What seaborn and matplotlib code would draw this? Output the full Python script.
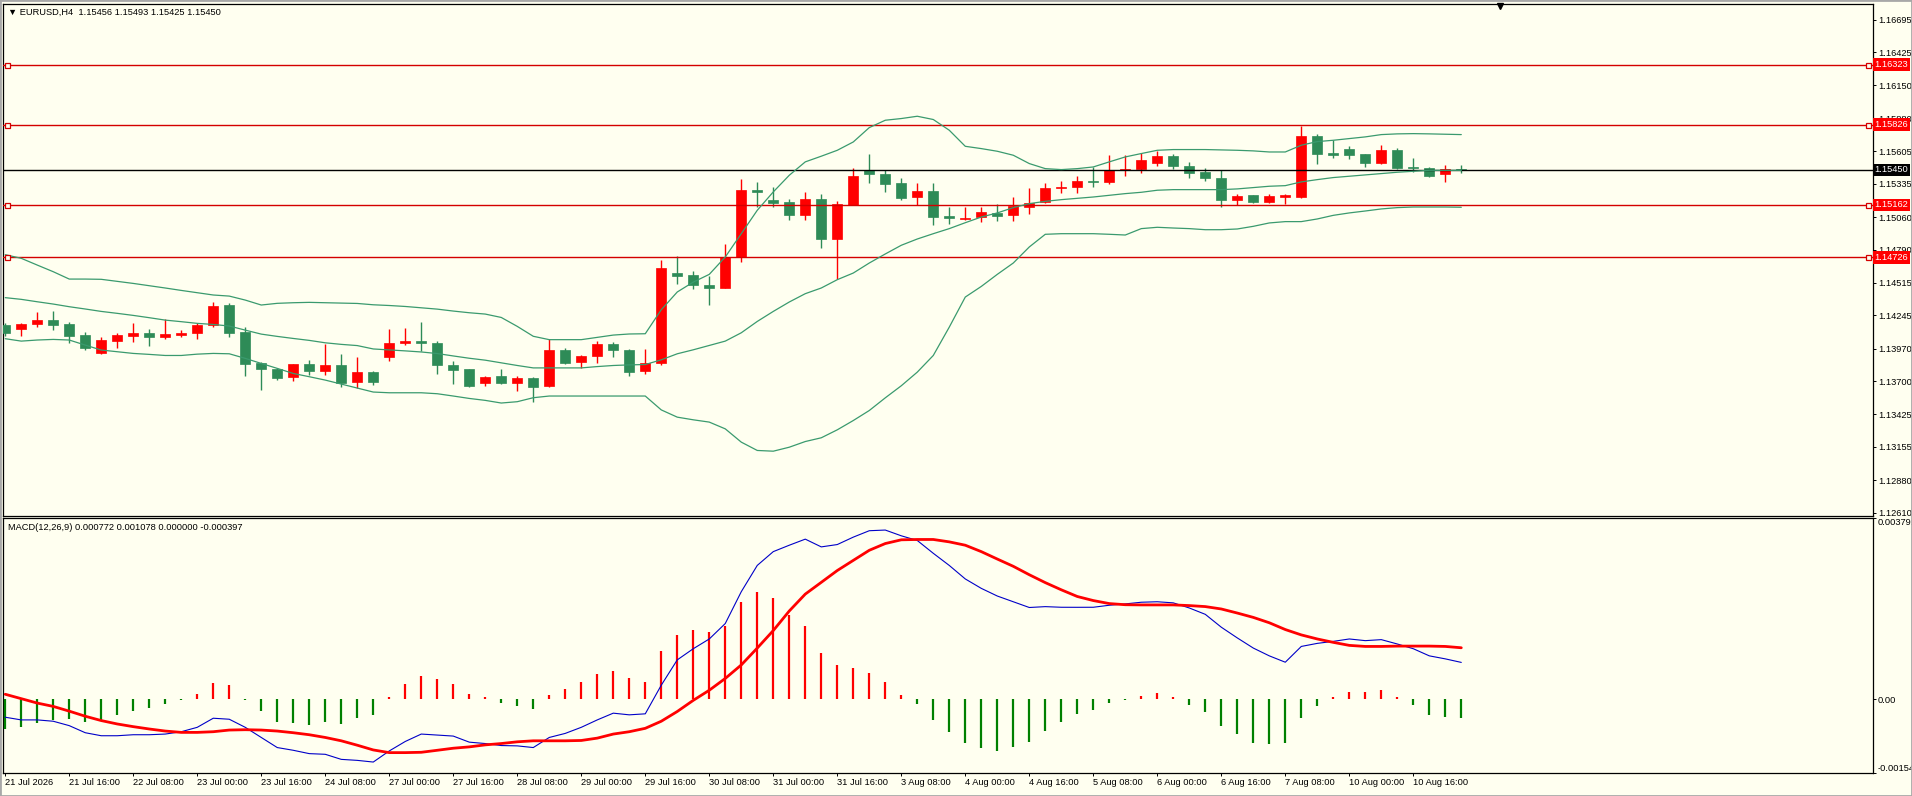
import numpy as np
import pandas as pd
import matplotlib
matplotlib.use("Agg")
import matplotlib.pyplot as plt
import matplotlib.transforms as mtransforms
from matplotlib.patches import Rectangle
import seaborn as sns

# EURUSD H4 candles (21 Jul 2026 00:00 .. 12 Aug)
opens = [1.14165, 1.14129, 1.14170, 1.14206, 1.14173, 1.14082, 1.13930, 1.14035, 1.14076, 1.14099,
         1.14068, 1.14085, 1.14096, 1.14162, 1.14331, 1.14107, 1.13850, 1.13800, 1.13736, 1.13839,
         1.13786, 1.13833, 1.13692, 1.13780, 1.13901, 1.14014, 1.14036, 1.14019, 1.13835, 1.13797,
         1.13687, 1.13747, 1.13687, 1.13728, 1.13659, 1.13962, 1.13860, 1.13906, 1.14011, 1.13962,
         1.13783, 1.13849, 1.14599, 1.14577, 1.14499, 1.14474, 1.14726, 1.15282, 1.15204, 1.15182,
         1.15080, 1.15212, 1.14881, 1.15163, 1.15447, 1.15420, 1.15340, 1.15229, 1.15279, 1.15066,
         1.15044, 1.15058, 1.15096, 1.15080, 1.15146, 1.15185, 1.15304, 1.15312, 1.15362, 1.15353,
         1.15450, 1.15458, 1.15508, 1.15563, 1.15486, 1.15431, 1.15387, 1.15201, 1.15240, 1.15185,
         1.15226, 1.15226, 1.15729, 1.15591, 1.15627, 1.15580, 1.15511, 1.15613, 1.15472, 1.15470,
         1.15420, 1.15456]
highs = [1.14184, 1.14184, 1.14273, 1.14281, 1.14190, 1.14107, 1.14063, 1.14101, 1.14184, 1.14132,
         1.14215, 1.14123, 1.14179, 1.14356, 1.14345, 1.14146, 1.13855, 1.13806, 1.13844, 1.13875,
         1.14007, 1.13924, 1.13901, 1.13786, 1.14135, 1.14143, 1.14187, 1.14036, 1.13871, 1.13802,
         1.13747, 1.13805, 1.13742, 1.13733, 1.14050, 1.13975, 1.13918, 1.14036, 1.14025, 1.13967,
         1.13970, 1.14704, 1.14740, 1.14610, 1.14571, 1.14839, 1.15373, 1.15353, 1.15309, 1.15212,
         1.15268, 1.15248, 1.15190, 1.15470, 1.15586, 1.15447, 1.15384, 1.15345, 1.15345, 1.15143,
         1.15143, 1.15143, 1.15171, 1.15229, 1.15304, 1.15340, 1.15359, 1.15403, 1.15475, 1.15572,
         1.15572, 1.15594, 1.15608, 1.15580, 1.15519, 1.15467, 1.15447, 1.15254, 1.15246, 1.15251,
         1.15254, 1.15812, 1.15751, 1.15702, 1.15646, 1.15586, 1.15655, 1.15635, 1.15552, 1.15475,
         1.15494, 1.15493]
lows = [1.14074, 1.14076, 1.14151, 1.14123, 1.14018, 1.13958, 1.13924, 1.13977, 1.14027, 1.13994,
        1.14052, 1.14068, 1.14046, 1.14151, 1.14063, 1.13745, 1.13631, 1.13706, 1.13701, 1.13750,
        1.13753, 1.13654, 1.13640, 1.13667, 1.13865, 1.14003, 1.13948, 1.13761, 1.13673, 1.13654,
        1.13659, 1.13678, 1.13618, 1.13527, 1.13654, 1.13843, 1.13810, 1.13849, 1.13898, 1.13742,
        1.13761, 1.13838, 1.14508, 1.14461, 1.14328, 1.14472, 1.14687, 1.15143, 1.15143, 1.15038,
        1.15038, 1.14806, 1.14549, 1.15157, 1.15345, 1.15271, 1.15204, 1.15163, 1.14991, 1.15005,
        1.15038, 1.15019, 1.15027, 1.15027, 1.15083, 1.15177, 1.15259, 1.15262, 1.15309, 1.15337,
        1.15403, 1.15425, 1.15486, 1.15461, 1.15387, 1.15359, 1.15143, 1.15163, 1.15177, 1.15177,
        1.15171, 1.15221, 1.15503, 1.15552, 1.15544, 1.15475, 1.15503, 1.15461, 1.15434, 1.15392,
        1.15351, 1.15425]
closes = [1.14096, 1.14170, 1.14206, 1.14168, 1.14076, 1.13977, 1.14041, 1.14079, 1.14099, 1.14068,
          1.14087, 1.14099, 1.14168, 1.14322, 1.14096, 1.13844, 1.13797, 1.13728, 1.13839, 1.13786,
          1.13830, 1.13687, 1.13780, 1.13692, 1.14016, 1.14036, 1.14016, 1.13832, 1.13791, 1.13659,
          1.13736, 1.13684, 1.13728, 1.13651, 1.13962, 1.13849, 1.13912, 1.14011, 1.13956, 1.13775,
          1.13852, 1.14635, 1.14574, 1.14499, 1.14474, 1.14726, 1.15282, 1.15268, 1.15177, 1.15077,
          1.15212, 1.14881, 1.15171, 1.15398, 1.15420, 1.15337, 1.15218, 1.15279, 1.15060, 1.15055,
          1.15055, 1.15105, 1.15069, 1.15149, 1.15179, 1.15304, 1.15312, 1.15362, 1.15351, 1.15453,
          1.15456, 1.15530, 1.15563, 1.15483, 1.15425, 1.15384, 1.15201, 1.15237, 1.15185, 1.15232,
          1.15240, 1.15729, 1.15586, 1.15572, 1.15577, 1.15511, 1.15613, 1.15467, 1.15467, 1.15400,
          1.15461, 1.15450]

# Bollinger bands
bb_upper = [1.14748, 1.14718, 1.14662, 1.14607, 1.14546, 1.14546, 1.14544, 1.14527, 1.14510, 1.14491,
            1.14472, 1.14452, 1.14433, 1.14414, 1.14405, 1.14372, 1.14331, 1.14345, 1.14350, 1.14353,
            1.14350, 1.14347, 1.14344, 1.14333, 1.14327, 1.14319, 1.14308, 1.14297, 1.14281, 1.14267,
            1.14256, 1.14228, 1.14154, 1.14072, 1.14044, 1.14044, 1.14044, 1.14063, 1.14082, 1.14091,
            1.14093, 1.14292, 1.14439, 1.14521, 1.14585, 1.14729, 1.14922, 1.15116, 1.15268, 1.15406,
            1.15517, 1.15564, 1.15613, 1.15682, 1.15801, 1.15862, 1.15876, 1.15895, 1.15868, 1.15779,
            1.15646, 1.15627, 1.15605, 1.15572, 1.15503, 1.15461, 1.15453, 1.15461, 1.15475, 1.15517,
            1.15558, 1.15586, 1.15613, 1.15619, 1.15619, 1.15619, 1.15616, 1.15613, 1.15608, 1.15599,
            1.15599, 1.15655, 1.15685, 1.15696, 1.15710, 1.15724, 1.15743, 1.15749, 1.15751, 1.15749,
            1.15746, 1.15743]
bb_mid = [1.14392, 1.14378, 1.14358, 1.14339, 1.14317, 1.14298, 1.14278, 1.14262, 1.14245, 1.14226,
          1.14206, 1.14193, 1.14179, 1.14170, 1.14157, 1.14123, 1.14090, 1.14071, 1.14054, 1.14038,
          1.14018, 1.14005, 1.13995, 1.13967, 1.13959, 1.13951, 1.13942, 1.13929, 1.13909, 1.13890,
          1.13874, 1.13852, 1.13830, 1.13810, 1.13810, 1.13810, 1.13810, 1.13821, 1.13830, 1.13835,
          1.13838, 1.13877, 1.13927, 1.13960, 1.13996, 1.14032, 1.14101, 1.14195, 1.14278, 1.14356,
          1.14425, 1.14472, 1.14541, 1.14596, 1.14679, 1.14754, 1.14826, 1.14878, 1.14922, 1.14964,
          1.15013, 1.15060, 1.15094, 1.15138, 1.15171, 1.15190, 1.15204, 1.15215, 1.15226, 1.15240,
          1.15254, 1.15265, 1.15282, 1.15287, 1.15287, 1.15287, 1.15287, 1.15293, 1.15304, 1.15315,
          1.15320, 1.15351, 1.15370, 1.15387, 1.15398, 1.15409, 1.15420, 1.15431, 1.15439, 1.15447,
          1.15447, 1.15447]
bb_lower = [1.14052, 1.14032, 1.14041, 1.14046, 1.14041, 1.13999, 1.13958, 1.13944, 1.13930, 1.13922,
            1.13913, 1.13913, 1.13924, 1.13930, 1.13927, 1.13889, 1.13847, 1.13806, 1.13764, 1.13737,
            1.13709, 1.13676, 1.13643, 1.13610, 1.13604, 1.13604, 1.13604, 1.13596, 1.13577, 1.13557,
            1.13541, 1.13519, 1.13530, 1.13563, 1.13577, 1.13577, 1.13577, 1.13577, 1.13577, 1.13577,
            1.13577, 1.13462, 1.13402, 1.13380, 1.13361, 1.13305, 1.13195, 1.13126, 1.13120, 1.13153,
            1.13200, 1.13231, 1.13297, 1.13374, 1.13457, 1.13562, 1.13662, 1.13775, 1.13913, 1.14148,
            1.14397, 1.14485, 1.14585, 1.14679, 1.14812, 1.14917, 1.14922, 1.14922, 1.14922, 1.14917,
            1.14911, 1.14964, 1.14975, 1.14969, 1.14964, 1.14955, 1.14955, 1.14961, 1.14983, 1.15011,
            1.15022, 1.15022, 1.15044, 1.15074, 1.15094, 1.15110, 1.15127, 1.15138, 1.15143, 1.15143,
            1.15143, 1.15141]

# MACD(12,26,9)
macd_main = [-0.000374, -0.000430, -0.000430, -0.000458, -0.000550, -0.000698, -0.000761, -0.000761, -0.000740, -0.000740,
             -0.000726, -0.000677, -0.000585, -0.000395, -0.000416, -0.000585, -0.000797, -0.001008, -0.001065, -0.001135,
             -0.001149, -0.001255, -0.001276, -0.001311, -0.001079, -0.000881, -0.000726, -0.000747, -0.000768, -0.000895,
             -0.000924, -0.000966, -0.000973, -0.001008, -0.000797, -0.000712, -0.000585, -0.000430, -0.000289, -0.000324,
             -0.000303, 0.000296, 0.000825, 0.001058, 0.001262, 0.001585, 0.002250, 0.002800, 0.003088, 0.003222,
             0.003349, 0.003187, 0.003236, 0.003391, 0.003525, 0.003539, 0.003419, 0.003321, 0.003053, 0.002799,
             0.002517, 0.002320, 0.002160, 0.002040, 0.001920, 0.001938, 0.001925, 0.001924, 0.001925, 0.001967,
             0.001995, 0.002030, 0.002040, 0.002017, 0.001910, 0.001777, 0.001508, 0.001284, 0.001072, 0.000909,
             0.000776, 0.001106, 0.001170, 0.001212, 0.001262, 0.001227, 0.001248, 0.001157, 0.001058, 0.000909,
             0.000846, 0.000772]
macd_signal = [0.000106, 0.000014, -0.000078, -0.000148, -0.000247, -0.000353, -0.000444, -0.000515, -0.000571, -0.000620,
               -0.000663, -0.000691, -0.000691, -0.000677, -0.000642, -0.000635, -0.000642, -0.000663, -0.000698, -0.000740,
               -0.000797, -0.000867, -0.000959, -0.001058, -0.001114, -0.001114, -0.001107, -0.001065, -0.001022, -0.000994,
               -0.000952, -0.000924, -0.000888, -0.000867, -0.000867, -0.000867, -0.000860, -0.000811, -0.000726, -0.000677,
               -0.000606, -0.000458, -0.000254, -0.000021, 0.000190, 0.000437, 0.000719, 0.001072, 0.001438, 0.001847,
               0.002200, 0.002446, 0.002693, 0.002905, 0.003116, 0.003257, 0.003335, 0.003342, 0.003342, 0.003292,
               0.003222, 0.003088, 0.002933, 0.002781, 0.002605, 0.002440, 0.002290, 0.002150, 0.002065, 0.002002,
               0.001978, 0.001974, 0.001974, 0.001974, 0.001960, 0.001939, 0.001889, 0.001804, 0.001713, 0.001601,
               0.001459, 0.001347, 0.001262, 0.001191, 0.001128, 0.001106, 0.001106, 0.001113, 0.001113, 0.001113,
               0.001106, 0.001078]
macd_hist = [-0.000630, -0.000581, -0.000497, -0.000441, -0.000420, -0.000476, -0.000427, -0.000329, -0.000245, -0.000189,
             -0.000105, -0.000014, 0.000119, 0.000350, 0.000294, -0.000014, -0.000245, -0.000476, -0.000497, -0.000539,
             -0.000476, -0.000518, -0.000392, -0.000329, 0.000042, 0.000315, 0.000483, 0.000420, 0.000315, 0.000119,
             0.000042, -0.000077, -0.000140, -0.000210, 0.000091, 0.000210, 0.000357, 0.000525, 0.000588, 0.000441,
             0.000357, 0.001008, 0.001344, 0.001449, 0.001407, 0.001533, 0.002037, 0.002247, 0.002121, 0.001771,
             0.001533, 0.000966, 0.000714, 0.000651, 0.000546, 0.000357, 0.000091, -0.000098, -0.000434, -0.000686,
             -0.000910, -0.001022, -0.001071, -0.001001, -0.000882, -0.000665, -0.000483, -0.000315, -0.000231, -0.000077,
             -0.000021, 0.000063, 0.000126, 0.000042, -0.000126, -0.000273, -0.000560, -0.000728, -0.000903, -0.000924,
             -0.000903, -0.000399, -0.000140, 0.000042, 0.000147, 0.000147, 0.000189, 0.000042, -0.000126, -0.000336,
             -0.000378, -0.000397]

level_prices = [1.16323, 1.15826, 1.15162, 1.14726]
bid_price = 1.15450
price_ticks = [1.16695, 1.16425, 1.16150, 1.15880, 1.15605, 1.15335, 1.15060, 1.14790,
               1.14515, 1.14245, 1.13970, 1.13700, 1.13425, 1.13155, 1.12880, 1.12610]
macd_ticks = [0.003791, 0.0, -0.00154]
macd_tick_labels = ["0.003791", "0.00", "-0.00154"]
date_labels = ["21 Jul 2026", "21 Jul 16:00", "22 Jul 08:00", "23 Jul 00:00", "23 Jul 16:00",
               "24 Jul 08:00", "27 Jul 00:00", "27 Jul 16:00", "28 Jul 08:00", "29 Jul 00:00",
               "29 Jul 16:00", "30 Jul 08:00", "31 Jul 00:00", "31 Jul 16:00", "3 Aug 08:00",
               "4 Aug 00:00", "4 Aug 16:00", "5 Aug 08:00", "6 Aug 00:00", "6 Aug 16:00",
               "7 Aug 08:00", "10 Aug 00:00", "10 Aug 16:00"]
title_text = "\u25bc EURUSD,H4  1.15456 1.15493 1.15425 1.15450"
macd_title = "MACD(12,26,9) 0.000772 0.001078 0.000000 -0.000397"

BG = "#FFFFF0"
RED = "#FF0000"
GREEN = "#2E8B57"
BAND = "#3A9A6E"
LEVEL = "#D40000"

sns.set_theme(style="white", rc={"axes.facecolor": BG, "figure.facecolor": BG})
plt.rcParams["font.family"] = ["Liberation Sans", "DejaVu Sans"]
FS = 6.7

df = pd.DataFrame({"open": opens, "high": highs, "low": lows, "close": closes,
                   "upper": bb_upper, "mid": bb_mid, "lower": bb_lower,
                   "main": macd_main, "signal": macd_signal, "hist": macd_hist})
df["x"] = np.arange(len(df))

W, H = 1912, 796
fig = plt.figure(figsize=(W / 100, H / 100), dpi=100)


def px_rect(l, t, r, b):
    return [l / W, 1 - b / H, (r - l) / W, (b - t) / H]


ax = fig.add_axes(px_rect(3, 4, 1873, 516))
axm = fig.add_axes(px_rect(3, 518, 1873, 773), sharex=ax)

# candles
bull = df["close"] >= df["open"]
cols = np.where(bull, RED, GREEN)
ax.vlines(df["x"], df["low"], df["high"], colors=cols, linewidth=1.0, zorder=3)
body_lo = np.minimum(df["open"], df["close"])
body_h = np.maximum((df["close"] - df["open"]).abs(), 0.000025)
ax.bar(df["x"], body_h, bottom=body_lo, width=0.62, color=cols, edgecolor=cols,
       linewidth=0.5, zorder=4)

for col in ["upper", "mid", "lower"]:
    sns.lineplot(data=df, x="x", y=col, ax=ax, color=BAND, linewidth=0.9, zorder=6)

trans = mtransforms.blended_transform_factory(ax.transAxes, ax.transData)
for lv in level_prices:
    ax.axhline(lv, color=LEVEL, linewidth=1.0, zorder=5)
    ax.plot([0.0022, 0.9974], [lv, lv], transform=trans, linestyle="none", marker="s",
            markersize=3.6, markerfacecolor=BG, markeredgecolor=LEVEL, markeredgewidth=0.9,
            clip_on=False, zorder=7)
    ax.text(1.0007, lv, f"{lv:.5f}", transform=trans, color="white", fontsize=FS,
            va="center", ha="left", zorder=10, clip_on=False,
            bbox=dict(boxstyle="square,pad=0.18", facecolor=RED, edgecolor="none"))
ax.axhline(bid_price, color="black", linewidth=1.0, zorder=5)
ax.text(1.0007, bid_price, f"{bid_price:.5f}", transform=trans, color="white", fontsize=FS,
        va="center", ha="left", zorder=10, clip_on=False,
        bbox=dict(boxstyle="square,pad=0.18", facecolor="black", edgecolor="none"))

ax.set_xlim(-0.14, 116.73)
ax.set_ylim(1.12583, 1.16825)
ax.yaxis.tick_right()
ax.set_yticks(price_ticks)
ax.set_yticklabels([f"{p:.5f}" for p in price_ticks])
ax.tick_params(axis="y", direction="out", length=2.2, width=0.7, pad=1.3,
               labelsize=FS, colors="black", right=True)
ax.tick_params(axis="x", bottom=False, labelbottom=False)
ax.set_xlabel("")
ax.set_ylabel("")
ax.text(0.0025, 0.983, title_text, transform=ax.transAxes, fontsize=FS, va="center",
        ha="left", color="black")
ax.plot([0.8005], [0.996], transform=ax.transAxes, marker="v", color="black",
        markersize=5, clip_on=False, zorder=8)

# MACD window
hcols = np.where(df["hist"] > 0, RED, "#008000")
axm.vlines(df["x"], 0, df["hist"], colors=hcols, linewidth=1.6, zorder=3)
sns.lineplot(data=df, x="x", y="main", ax=axm, color="#0000C8", linewidth=0.8, zorder=4)
sns.lineplot(data=df, x="x", y="signal", ax=axm, color=RED, linewidth=2.0, zorder=5)
axm.set_ylim(-0.00154, 0.003791)
axm.yaxis.tick_right()
axm.set_yticks(macd_ticks)
axm.set_yticklabels(macd_tick_labels)
axm.tick_params(axis="y", direction="out", length=2.2, width=0.7, pad=1.3,
                labelsize=FS, colors="black", right=True)
ylab = axm.get_yticklabels()
ylab[0].set_va("top")
ylab[2].set_va("bottom")
axm.set_xticks(np.arange(0, 4 * len(date_labels), 4))
axm.set_xticklabels(date_labels)
axm.tick_params(axis="x", direction="out", length=2.4, width=0.7, pad=1.2,
                labelsize=FS, colors="black", bottom=True)
for t in axm.get_xticklabels():
    t.set_ha("left")
axm.set_xlabel("")
axm.set_ylabel("")
axm.text(0.0025, 0.962, macd_title, transform=axm.transAxes, fontsize=FS, va="center",
         ha="left", color="black")

for a in (ax, axm):
    for s in a.spines.values():
        s.set_color("black")
        s.set_linewidth(0.9)
    a.grid(False)
    leg = a.get_legend()
    if leg is not None:
        leg.remove()

fig.patches.append(Rectangle((0, 0), 1, 1, transform=fig.transFigure, fill=False,
                             edgecolor="#A8A8A8", linewidth=2.0))

fig.savefig("out.png", dpi=100, facecolor=BG)
